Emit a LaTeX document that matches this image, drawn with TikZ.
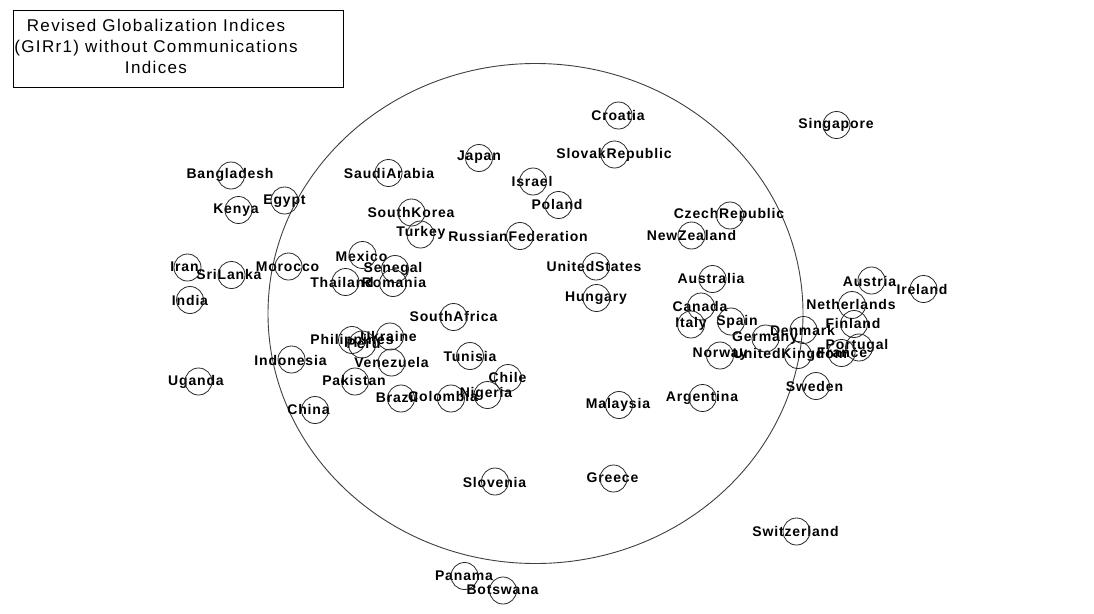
\documentclass[tikz,border=0pt]{standalone}
\usepackage{fontspec}
\setmainfont{Liberation Sans}
\newfontfamily\labfont[LetterSpace=6]{Liberation Sans}
\newfontfamily\titfont[LetterSpace=8]{Liberation Sans}
\begin{document}
\begin{tikzpicture}[x=1pt,y=-1pt,
  cnode/.style={circle,draw=black!85,line width=0.8pt,minimum size=27pt,inner sep=0pt},
  clab/.style={inner sep=0pt,font=\labfont\bfseries\fontsize{14}{14}\selectfont,text=black},
  bigring/.style={draw=black!75,line width=0.9pt},
  titbox/.style={draw=black,line width=1pt,anchor=north west,minimum width=330pt,minimum height=77pt,inner sep=0pt},
  tittext/.style={align=center,inner sep=0pt,font=\titfont\fontsize{17}{21}\selectfont}]
\useasboundingbox (0,0) rectangle (1094,613);
\fill[white] (0,0) rectangle (1094,613);
% title
\node[titbox] (titlebox) at (13,10) {};
\node[tittext] (title) at (156,46) {Revised Globalization Indices\\(GIRr1) without Communications\\Indices};
% large ring
\draw[bigring] (535.5,313.5) ellipse [x radius=267.5pt, y radius=250pt];
% countries: name / circle x / circle y / label x / label y
\foreach \n/\cx/\cy/\tx/\ty in {
 Croatia/618.5/115.5/618/115,
 Singapore/836.5/125/836/125,
 SlovakRepublic/614.5/154.5/614/155,
 Japan/479/158/479/157,
 SaudiArabia/388.5/173/389/173,
 Bangladesh/231/175.5/230/175,
 Israel/533/181.5/532/181,
 Poland/558.5/205/557/204,
 Egypt/284.5/200.5/284.5/201,
 Kenya/238.5/210/236/210,
 SouthKorea/411.5/212.5/411/212,
 Turkey/420.5/234.5/421/233,
 RussianFederation/520/236/518/236,
 CzechRepublic/730/215.5/729/215,
 NewZealand/691.5/235.5/691.5/235,
 Mexico/362.5/255/361.5/256,
 Senegal/395/269/393/269,
 Romania/393/283/394/282,
 Thailand/345.5/282/342/282,
 Iran/187.5/267.5/184.5/267,
 SriLanka/231.5/275/229/274,
 Morocco/288.5/266.5/287.5/267,
 India/190/300/190/300,
 UnitedStates/596/266.5/594/266,
 Hungary/596.5/298/596/298,
 Australia/712.5/279/711/278,
 Austria/871.5/280.5/869.5/281,
 Ireland/923.5/289/922/289,
 Netherlands/852/305/851/304,
 Finland/854/324/853/323,
 Portugal/859/347.5/857/346,
 France/841.5/353/842/353,
 Denmark/803.5/330/802.5/330,
 UnitedKingdom/798/355/790/355,
 Germany/765.5/338.5/765/338,
 Spain/731/321.5/737/322,
 Canada/701/306.5/700/306,
 Italy/691/324.5/691/324,
 Norway/720/355.5/720/354,
 Sweden/816/386/814.5/386,
 Malaysia/619/405/618/405,
 Argentina/702.5/398/702/398,
 SouthAfrica/453.5/317/453.5/316,
 Ukraine/390/336.5/388.5/336.5,
 Philippines/352/340/352/341,
 Peru/362/344.5/363.5/344,
 Venezuela/391.5/362.5/391.5/362,
 Indonesia/291.5/359.5/290.5/360,
 Tunisia/470/356/470/356,
 Pakistan/355/381.5/354/380,
 Chile/508/378/507.5/377.5,
 Brazil/401/398.5/397/397.5,
 Colombia/451/398.5/443/396,
 Nigeria/487.5/395/486/394,
 China/315/410/308.5/409,
 Uganda/198.5/381.5/196/382,
 Slovenia/495/481.5/494.5/482,
 Greece/613.5/478.5/612.5/478,
 Panama/464.5/576/464/576,
 Botswana/503/590.5/502.5/590,
 Switzerland/796.5/531.5/795.5/531.5}
{
 \node[clab] (l-\n) at (\tx,\ty) {\n};
 \node[cnode] (c-\n) at (\cx,\cy) {};
}
\end{tikzpicture}
\end{document}
